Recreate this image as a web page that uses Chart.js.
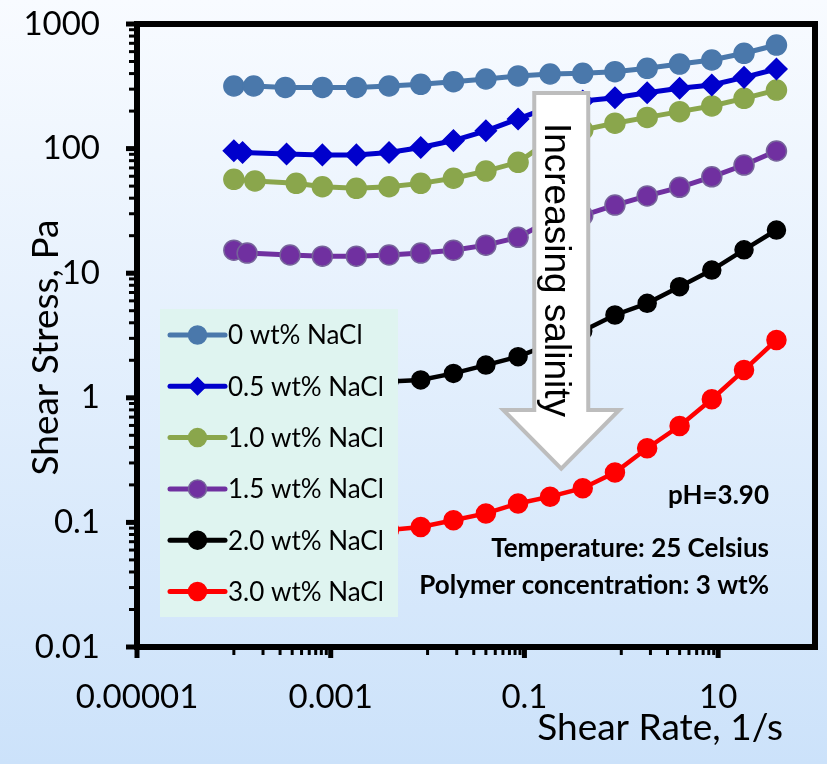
<!doctype html>
<html>
<head>
    <meta charset="utf-8">
    <title>Shear Stress vs Shear Rate</title>
    <script src="https://cdn.jsdelivr.net/npm/chart.js@4.4.0/dist/chart.umd.min.js"></script>
    <style>
        html, body { margin: 0; padding: 0; background: #e6f0fb; }
        #holder { width: 827px; height: 764px; }
    </style>
</head>
<body>

<div id="holder">
    <canvas id="myChart" width="827" height="764"></canvas>
</div>

<script>
    // shear rates (1/s), per series
    var rateA  = [0.0001, 0.00016, 0.00034, 0.00082, 0.00184, 0.004, 0.0085, 0.0185, 0.04, 0.086, 0.184, 0.4, 0.86, 1.85, 4, 8.6, 18.5, 40];
    var rate05 = [0.0001, 0.000123, 0.00035, 0.00082, 0.00184, 0.004, 0.0085, 0.0185, 0.04, 0.086, 0.184, 0.4, 0.86, 1.85, 4, 8.6, 18.5, 40];
    var rate10 = [0.0001, 0.000165, 0.00044, 0.00082, 0.00184, 0.004, 0.0085, 0.0185, 0.04, 0.086, 0.184, 0.4, 0.86, 1.85, 4, 8.6, 18.5, 40];
    var rate15 = [0.0001, 0.000137, 0.00038, 0.00082, 0.00184, 0.004, 0.0085, 0.0185, 0.04, 0.086, 0.184, 0.4, 0.86, 1.85, 4, 8.6, 18.5, 40];

    // shear stress (Pa)
    var stress00 = [318, 318, 310, 310, 310, 318, 328, 344, 362, 383, 397, 402, 414, 441, 477, 514, 582, 678];
    var stress05 = [96, 93, 90.5, 89, 89, 93, 102, 116, 139, 173, 216, 241, 256, 281, 305, 324, 373, 435];
    var stress10 = [56.7, 55, 52.6, 49.4, 48, 49.4, 52.6, 57.8, 66, 77.6, 117, 141, 160, 178, 198, 220, 253, 295];
    var stress15 = [15.3, 14.5, 14.0, 13.7, 13.7, 14.0, 14.5, 15.3, 16.8, 19.4, 26.7, 29.0, 35.2, 41.7, 48.9, 59.4, 73.8, 95.7];
    var stress20 = [1.28, 1.27, 1.26, 1.27, 1.30, 1.35, 1.39, 1.57, 1.83, 2.14, 2.70, 3.44, 4.62, 5.73, 7.80, 10.6, 15.4, 22.2];
    var stress30 = [0.080, 0.079, 0.079, 0.080, 0.083, 0.087, 0.092, 0.104, 0.118, 0.142, 0.161, 0.188, 0.251, 0.394, 0.594, 0.973, 1.67, 2.91];

    var seriesLabels = ['0 wt% NaCl', '0.5 wt% NaCl', '1.0 wt% NaCl', '1.5 wt% NaCl', '2.0 wt% NaCl', '3.0 wt% NaCl'];
    var seriesRates = [rateA, rate05, rate10, rate15, rateA, rateA];
    var seriesStress = [stress00, stress05, stress10, stress15, stress20, stress30];

    // axis ticks
    var xMajorTicks = [0.00001, 0.001, 0.1, 10];
    var xTickLabels = ['0.00001', '0.001', '0.1', '10'];
    var xMinorTicks = [0.0001, 0.0002, 0.0003, 0.0004, 0.0005, 0.0006, 0.0007, 0.0008, 0.0009,
                       0.01, 0.02, 0.03, 0.04, 0.05, 0.06, 0.07, 0.08, 0.09,
                       1, 2, 3, 4, 5, 6, 7, 8, 9];
    var yMajorTicks = [0.01, 0.1, 1, 10, 100, 1000];
    var yTickLabels = ['0.01', '0.1', '1', '10', '100', '1000'];
    var yMinorTicks = [0.02, 0.03, 0.04, 0.05, 0.06, 0.07, 0.08, 0.09,
                       0.2, 0.3, 0.4, 0.5, 0.6, 0.7, 0.8, 0.9,
                       2, 3, 4, 5, 6, 7, 8, 9,
                       20, 30, 40, 50, 60, 70, 80, 90,
                       200, 300, 400, 500, 600, 700, 800, 900];

    var notes = ['pH=3.90', 'Temperature: 25 Celsius', 'Polymer concentration: 3 wt%'];
    var arrowText = 'Increasing salinity';

    // styles
    var seriesStyle = [
        { color: '#4a78ab', border: '#4a78ab', style: 'circle', r: 10, line: 5 },
        { color: '#0000cc', border: '#0000cc', style: 'rectRot', r: 10.5, line: 5 },
        { color: '#8aa64c', border: '#8aa64c', style: 'circle', r: 10, line: 5 },
        { color: '#7030a0', border: '#76639a', style: 'circle', r: 10, line: 5 },
        { color: '#000000', border: '#000000', style: 'circle', r: 9, line: 4.5 },
        { color: '#ff0000', border: '#ff0000', style: 'circle', r: 9.5, line: 4.5 }
    ];

    function sameValue(a, b) {
        return Math.abs(Math.log10(a) - Math.log10(b)) < 1e-6;
    }

    function labelFor(value, majors, labels) {
        for (var i = 0; i < majors.length; i++) {
            if (sameValue(value, majors[i])) return labels[i];
        }
        return '';
    }

    function isMajor(value, majors) {
        return majors.some(function (m) { return sameValue(value, m); });
    }

    function drawMarker(ctx, st, x, y, r) {
        ctx.beginPath();
        if (st.style === 'rectRot') {
            ctx.moveTo(x - r, y);
            ctx.lineTo(x, y - r);
            ctx.lineTo(x + r, y);
            ctx.lineTo(x, y + r);
            ctx.closePath();
        } else {
            ctx.arc(x, y, r, 0, Math.PI * 2);
        }
        ctx.fillStyle = st.color;
        ctx.fill();
        ctx.lineWidth = 1.5;
        ctx.strokeStyle = st.border;
        ctx.stroke();
    }

    var decor = {
        id: 'decor',
        beforeDraw: function (chart) {
            var ctx = chart.ctx;
            var g = ctx.createLinearGradient(0, 0, 0, chart.height);
            g.addColorStop(0, '#f8fbff');
            g.addColorStop(1, '#cce2fa');
            ctx.save();
            ctx.fillStyle = g;
            ctx.fillRect(0, 0, chart.width, chart.height);
            ctx.restore();
        },
        afterDatasetsDraw: function (chart) {
            var ctx = chart.ctx;
            var ca = chart.chartArea;
            var xs = chart.scales.x;
            var ys = chart.scales.y;
            ctx.save();

            // arrow
            var cx = xs.getPixelForValue(0.24);
            var top = ys.getPixelForValue(280);
            var neck = ys.getPixelForValue(0.8);
            var tip = ys.getPixelForValue(0.27);
            ctx.beginPath();
            ctx.moveTo(cx - 27, top);
            ctx.lineTo(cx + 27, top);
            ctx.lineTo(cx + 27, neck);
            ctx.lineTo(cx + 58, neck);
            ctx.lineTo(cx, tip);
            ctx.lineTo(cx - 58, neck);
            ctx.lineTo(cx - 27, neck);
            ctx.closePath();
            ctx.fillStyle = '#ffffff';
            ctx.fill();
            ctx.lineWidth = 4;
            ctx.strokeStyle = '#bdbdbd';
            ctx.lineJoin = 'miter';
            ctx.stroke();

            ctx.save();
            ctx.translate(cx - 16, top + 30);
            ctx.rotate(Math.PI / 2);
            ctx.fillStyle = '#000';
            ctx.font = '37px "Liberation Sans", Arial, sans-serif';
            ctx.textAlign = 'left';
            ctx.textBaseline = 'alphabetic';
            ctx.fillText(arrowText, 0, 0);
            ctx.restore();

            // frame
            ctx.lineWidth = 6;
            ctx.strokeStyle = '#000';
            ctx.strokeRect(ca.left, ca.top, ca.right - ca.left, ca.bottom - ca.top);

            // tick marks
            ctx.lineCap = 'butt';
            ys.ticks.forEach(function (t) {
                var py = ys.getPixelForValue(t.value);
                var major = isMajor(t.value, yMajorTicks);
                ctx.lineWidth = major ? 5 : 3;
                ctx.beginPath();
                ctx.moveTo(ca.left, py);
                ctx.lineTo(ca.left - (major ? 11 : 8), py);
                ctx.stroke();
            });
            xs.ticks.forEach(function (t) {
                var px = xs.getPixelForValue(t.value);
                var major = isMajor(t.value, xMajorTicks);
                ctx.lineWidth = major ? 5 : 3;
                ctx.beginPath();
                ctx.moveTo(px, ca.bottom);
                ctx.lineTo(px, ca.bottom + (major ? 11 : 8));
                ctx.stroke();
            });

            // legend box
            var lx = ca.left + 23, ly = ca.top + 285;
            ctx.fillStyle = '#dff4f0';
            ctx.fillRect(lx, ly, 238, 308);
            chart.data.datasets.forEach(function (ds, i) {
                var st = seriesStyle[i];
                var iy = ly + 26 + i * 51.3;
                ctx.strokeStyle = st.color;
                ctx.lineWidth = 5;
                ctx.lineCap = 'round';
                ctx.beginPath();
                ctx.moveTo(lx + 10, iy);
                ctx.lineTo(lx + 65, iy);
                ctx.stroke();
                drawMarker(ctx, st, lx + 37.5, iy, st.style === 'rectRot' ? 8.5 : 9);
                ctx.fillStyle = '#000';
                ctx.font = '26px Lato, sans-serif';
                ctx.textAlign = 'left';
                ctx.textBaseline = 'middle';
                ctx.fillText(ds.label, lx + 68, iy + 1);
            });

            // notes
            ctx.fillStyle = '#000';
            ctx.font = 'bold 26px Lato, sans-serif';
            ctx.textAlign = 'right';
            ctx.textBaseline = 'alphabetic';
            ctx.fillText(notes[0], ca.right - 46, 504);
            ctx.fillText(notes[1], ca.right - 46, 557);
            ctx.fillText(notes[2], ca.right - 46, 594);

            // axis titles
            ctx.font = '37px Lato, sans-serif';
            ctx.textAlign = 'right';
            ctx.fillText('Shear Rate, 1/s', ca.right - 32, 740);
            ctx.save();
            ctx.translate(46, (ca.top + ca.bottom) / 2 + 12);
            ctx.rotate(-Math.PI / 2);
            ctx.textAlign = 'center';
            ctx.textBaseline = 'middle';
            ctx.fillText('Shear Stress, Pa', 0, 0);
            ctx.restore();

            ctx.restore();
        }
    };

    Chart.defaults.font.family = 'Lato';

    var datasets = seriesLabels.map(function (label, i) {
        var st = seriesStyle[i];
        return {
            label: label,
            data: seriesRates[i].map(function (r, j) { return { x: r, y: seriesStress[i][j] }; }),
            borderColor: st.color,
            backgroundColor: st.color,
            pointBackgroundColor: st.color,
            pointBorderColor: st.border,
            pointBorderWidth: 1.5,
            pointStyle: st.style,
            pointRadius: st.r,
            borderWidth: st.line,
            tension: 0,
            clip: false
        };
    });

    var ctx = document.getElementById('myChart').getContext('2d');
    var myChart = new Chart(ctx, {
        type: 'line',
        data: { datasets: datasets },
        options: {
            responsive: false,
            animation: false,
            layout: { padding: { top: 24, right: 7, left: 0, bottom: 0 } },
            plugins: { legend: { display: false }, tooltip: { enabled: false } },
            scales: {
                x: {
                    type: 'logarithmic',
                    min: 0.00001,
                    max: 100,
                    grid: { drawOnChartArea: false, drawTicks: false },
                    border: { display: false },
                    ticks: {
                        autoSkip: false,
                        maxRotation: 0,
                        minRotation: 0,
                        padding: 31,
                        color: '#000',
                        font: { size: 33 },
                        callback: function (value) { return labelFor(value, xMajorTicks, xTickLabels); }
                    },
                    afterBuildTicks: function (s) {
                        s.ticks = xMajorTicks.concat(xMinorTicks).map(function (v) { return { value: v }; });
                    },
                    afterFit: function (s) {
                        s.height = 117;
                        s.paddingLeft = 0;
                        s.paddingRight = 0;
                    }
                },
                y: {
                    type: 'logarithmic',
                    min: 0.01,
                    max: 1000,
                    grid: { drawOnChartArea: false, drawTicks: false },
                    border: { display: false },
                    ticks: {
                        autoSkip: false,
                        padding: 37,
                        color: '#000',
                        font: { size: 33 },
                        callback: function (value) { return labelFor(value, yMajorTicks, yTickLabels); }
                    },
                    afterBuildTicks: function (s) {
                        s.ticks = yMajorTicks.concat(yMinorTicks).map(function (v) { return { value: v }; });
                    },
                    afterFit: function (s) {
                        s.width = 137;
                        s.paddingTop = 0;
                        s.paddingBottom = 0;
                    }
                }
            }
        },
        plugins: [decor]
    });
</script>
</body>
</html>
